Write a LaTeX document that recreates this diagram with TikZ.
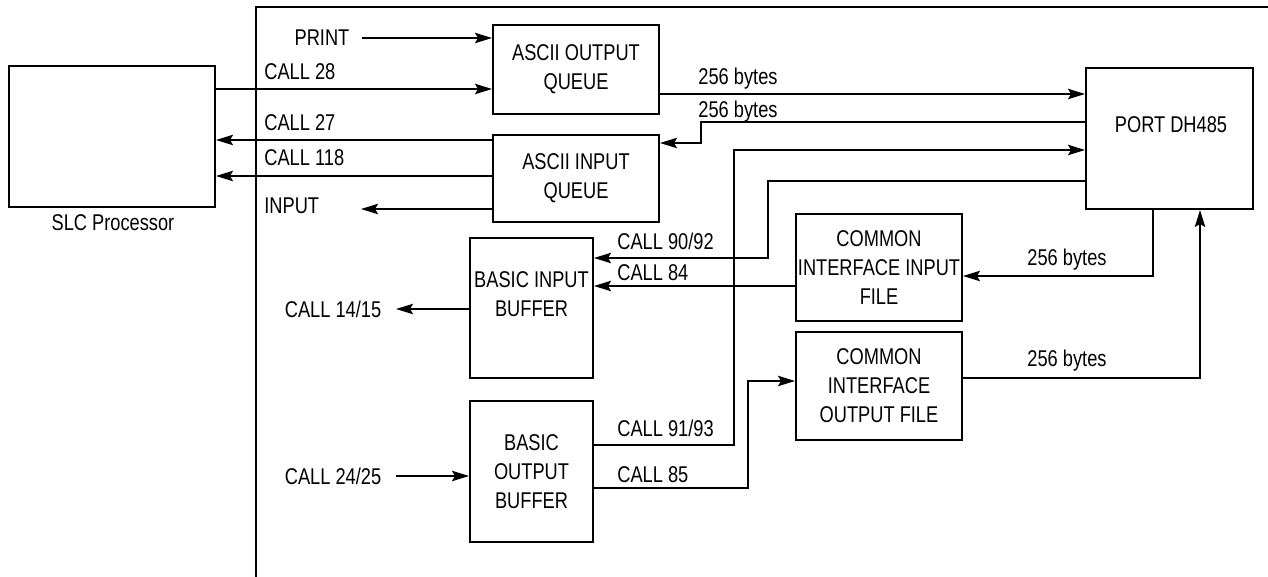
\documentclass[tikz,border=0pt]{standalone}
\usepackage{fontspec}
\setmainfont{Liberation Sans}[FakeStretch=0.80]
\usetikzlibrary{arrows.meta}
\begin{document}
\begin{tikzpicture}[x=0.5pt, y=-0.5pt,
  font=\fontsize{11.4}{14.5}\selectfont,
  box/.style={draw, line width=1pt, inner sep=0pt, align=center},
  lbl/.style={inner sep=0pt, text depth=0pt},
  ln/.style={line width=0.95pt},
  arr/.style={ln, -{Stealth[length=8.5pt,width=5.2pt,inset=1.5pt]}}]
\useasboundingbox (0,0) rectangle (1268,577);
% frame
\coordinate (fbl) at (256,577);
\coordinate (ftl) at (256,7);
\coordinate (ftr) at (1268,7);
\draw[line width=1pt] (fbl) -- (ftl) -- (ftr);
% boxes
\node[box, minimum width=103pt, minimum height=70.5pt] (slc) at (112,136.5) {};
\node[lbl] (slct) at (113,223) {SLC Processor};
\node[box, minimum width=83pt, minimum height=44.5pt] (aoq) at (576,69.5) {ASCII OUTPUT\\QUEUE};
\node[box, minimum width=83pt, minimum height=43.5pt] (aiq) at (576,178.5) {ASCII INPUT\\QUEUE};
\node[box, minimum width=83.5pt, minimum height=70.5pt] (port) at (1169.5,138.5) {};
\node[lbl] (portt) at (1171,125) {PORT DH485};
\node[box, minimum width=61.5pt, minimum height=70pt] (bib) at (531.5,308) {};
\node[lbl, align=center] (bibt) at (531.5,294) {BASIC INPUT\\BUFFER};
\node[box, minimum width=61.5pt, minimum height=70.5pt] (bob) at (531.5,471.5) {BASIC\\OUTPUT\\BUFFER};
\node[box, minimum width=83pt, minimum height=53.5pt] (ciif) at (879,267.5) {COMMON\\INTERFACE INPUT\\FILE};
\node[box, minimum width=83pt, minimum height=54pt] (coif) at (879,386) {COMMON\\INTERFACE\\OUTPUT FILE};
% labels
\node[lbl] (print) at (322,38) {PRINT};
\node[lbl, anchor=west] (c28) at (264,72) {CALL 28};
\node[lbl, anchor=west] (c27) at (264,123) {CALL 27};
\node[lbl, anchor=west] (c118) at (264,158) {CALL 118};
\node[lbl, anchor=west] (input) at (264,206) {INPUT};
\node[lbl] (b1) at (738,76) {256 bytes};
\node[lbl] (b2) at (738,109) {256 bytes};
\node[lbl, anchor=west] (c9092) at (617,241) {CALL 90/92};
\node[lbl, anchor=west] (c84) at (617,273) {CALL 84};
\node[lbl] (c1415) at (333,309) {CALL 14/15};
\node[lbl] (c2425) at (333,476) {CALL 24/25};
\node[lbl, anchor=west] (c9193) at (617,428) {CALL 91/93};
\node[lbl, anchor=west] (c85) at (617,475) {CALL 85};
\node[lbl] (b3) at (1067,257) {256 bytes};
\node[lbl] (b4) at (1067,358) {256 bytes};
% connectors
\coordinate (inend) at (361,209);
\coordinate (c1415end) at (396,309);
\coordinate (c2425start) at (396,476);
\draw[arr] ([xshift=6pt]print.east) -- (print.east -| aoq.west);
\draw[arr] (slc.east |- 0,89) -- (aoq.west |- 0,89);
\draw[arr] (aiq.west |- 0,140) -- (slc.east |- 0,140);
\draw[arr] (aiq.west |- 0,176) -- (slc.east |- 0,176);
\draw[arr] (aiq.west |- inend) -- (inend);
\draw[arr] (aoq.east |- 0,94) -- (port.west |- 0,94);
\draw[arr] (port.west |- 0,122) -| (701,143) -- (aiq.east |- 0,143);
\draw[arr] (port.west |- 0,181) -| (768,258) -- (bib.east |- 0,258);
\draw[arr] (ciif.west |- 0,286) -- (bib.east |- 0,286);
\draw[arr] (bib.west |- c1415end) -- (c1415end);
\draw[arr] (c2425start) -- (bob.west |- c2425start);
\draw[arr] (bob.east |- 0,445) -| (734,150) -- (port.west |- 0,150);
\draw[arr] (bob.east |- 0,488) -| (748,381) -- (coif.west |- 0,381);
\draw[arr] (port.south -| 1153,0) |- (ciif.east |- 0,276);
\draw[arr] (coif.east |- 0,378) -| (port.south -| 1200,0);
\end{tikzpicture}
\end{document}
